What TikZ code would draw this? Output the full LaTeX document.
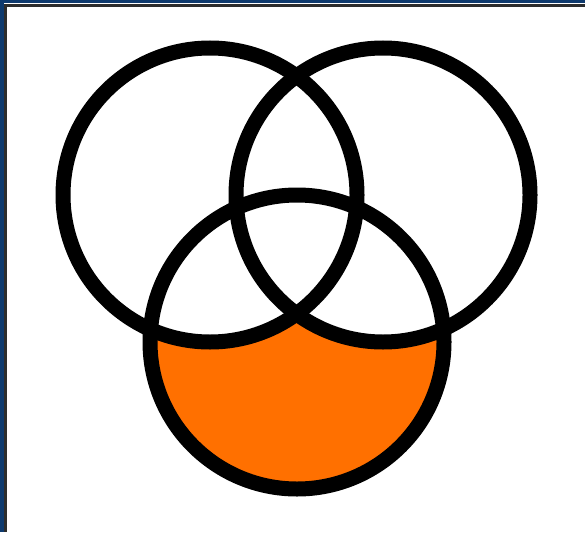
\documentclass[tikz,border=0pt]{standalone}
\begin{document}
\begin{tikzpicture}[x=1pt,y=-1pt,
  ring/.style={circle, draw=black, line width=15pt, minimum size=294pt, inner sep=0pt},
]
\definecolor{frameblue}{RGB}{14,58,110}
\definecolor{framegray}{RGB}{45,45,45}
\definecolor{vennorange}{RGB}{255,112,0}
\useasboundingbox (0,0) rectangle (585,532);
\fill[white] (0,0) rectangle (585,532);
% frame
\fill[frameblue] (0,0) rectangle (585,3);
\fill[frameblue] (0,0) rectangle (4,532);
\fill[framegray] (4,4) rectangle (585,7);
\fill[framegray] (4,4) rectangle (7,532);
% shaded region
\fill[vennorange] (297,342) circle (147);
\fill[white] (210,195) circle (147);
\fill[white] (383,195) circle (147);
% circles
\node[ring] (A) at (210,195) {};
\node[ring] (B) at (383,195) {};
\node[ring] (C) at (297,342) {};
\end{tikzpicture}
\end{document}
